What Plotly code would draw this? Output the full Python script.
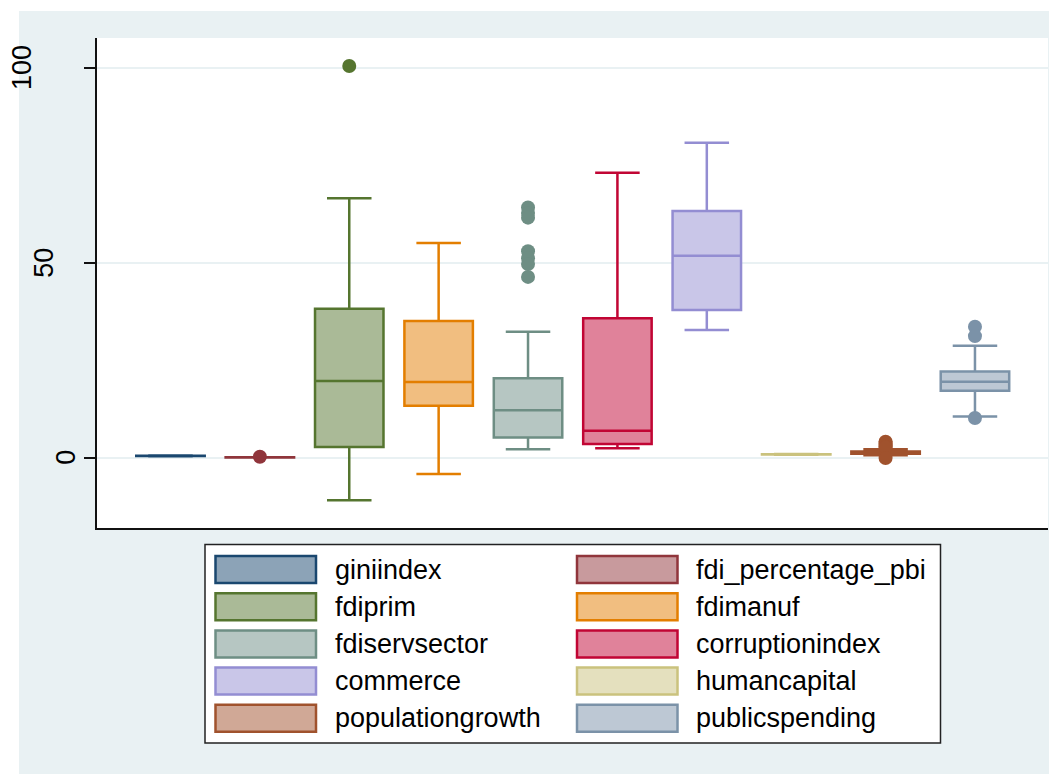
import plotly.graph_objects as go

# ---- data ----
variables = ["giniindex", "fdi_percentage_pbi", "fdiprim", "fdimanuf", "fdiservsector",
             "corruptionindex", "commerce", "humancapital", "populationgrowth", "publicspending"]
lower_whisker = [0.36, 0.05, -10.9, -4.2, 2.2, 2.4, 32.8, 0.78, 0.6, 10.6]
q1_values     = [0.42, 0.08, 2.75, 13.3, 5.2, 3.5, 37.9, 0.82, 1.0, 17.2]
median_values = [0.46, 0.10, 19.7, 19.4, 12.2, 6.9, 51.8, 0.85, 1.3, 19.5]
q3_values     = [0.50, 0.12, 38.2, 35.1, 20.4, 35.8, 63.3, 0.88, 1.6, 22.1]
upper_whisker = [0.56, 0.14, 66.6, 55.1, 32.3, 73.1, 80.8, 0.92, 2.2, 28.7]
outliers = [
    [],
    [0.25],
    [100.5],
    [],
    [64.2, 62.8, 61.6, 53.0, 51.2, 49.7, 46.4],
    [],
    [],
    [],
    [4.1, 3.7, 3.3, 2.9, 2.6, -0.1],
    [33.6, 31.2, 10.2],
]
y_ticks = [0, 50, 100]
y_tick_labels = ["0", "50", "100"]

line_colors = ["#1a476f", "#90353b", "#55752f", "#e37e00", "#6e8e84",
               "#c10534", "#938dd2", "#cac27e", "#a0522d", "#7b92a8"]


def lighten(hex_color, f=0.5):
    h = hex_color.lstrip("#")
    r, g, b = (int(h[i:i + 2], 16) for i in (0, 2, 4))
    r, g, b = (round(c + (255 - c) * f) for c in (r, g, b))
    return "#%02x%02x%02x" % (r, g, b)


fill_colors = [lighten(c) for c in line_colors]

FONT = "Liberation Sans, Arial, Helvetica, sans-serif"
OFF = 8  # default page body margin
W, H = 1064 - OFF, 774 - OFF
# plot area in page pixels: x 97..1048, y 38..528
L, R, T, B = 97 - OFF, 1064 - 1048, 38 - OFF, 774 - 528
PW, PH = W - L - R, H - T - B


def px_x(p):
    return (p - OFF - L) / PW


def px_y(p):
    return (H + OFF - B - p) / PH


fig = go.Figure()
positions = list(range(1, len(variables) + 1))
for i, name in enumerate(variables):
    fig.add_trace(go.Box(
        x=[positions[i]], q1=[q1_values[i]], median=[median_values[i]], q3=[q3_values[i]],
        lowerfence=[lower_whisker[i]], upperfence=[upper_whisker[i]],
        name=name, boxpoints=False, width=0.766, whiskerwidth=0.65,
        line=dict(color=line_colors[i], width=2.5), fillcolor=fill_colors[i],
        showlegend=False, hoverinfo="skip",
    ))
    if outliers[i]:
        fig.add_trace(go.Scatter(
            x=[positions[i]] * len(outliers[i]), y=outliers[i], mode="markers",
            marker=dict(size=14, color=line_colors[i], line=dict(width=0)),
            showlegend=False, hoverinfo="skip",
        ))

shapes = []
# outer graph region (light bluish gray) and white plot region
shapes.append(dict(type="rect", xref="paper", yref="paper", layer="below",
                   x0=px_x(19), x1=px_x(1049), y0=px_y(774), y1=px_y(11),
                   fillcolor="#e9f1f3", line=dict(width=0)))
shapes.append(dict(type="rect", xref="paper", yref="paper", layer="below",
                   x0=0, x1=1, y0=0, y1=1, fillcolor="white", line=dict(width=0)))

# legend frame
shapes.append(dict(type="rect", xref="paper", yref="paper",
                   x0=px_x(205), x1=px_x(940.5), y0=px_y(743), y1=px_y(544.5),
                   fillcolor="white", line=dict(color="#222222", width=1.5), layer="below"))

annotations = []
col_sw_x = [215.5, 577]
col_tx_x = [333, 694]
row_top = 556
row_pitch = 37.2
sw_w, sw_h = 100.5, 27
for i, name in enumerate(variables):
    r, c = divmod(i, 2)
    top = row_top + r * row_pitch
    shapes.append(dict(type="rect", xref="paper", yref="paper",
                       x0=px_x(col_sw_x[c]), x1=px_x(col_sw_x[c] + sw_w),
                       y0=px_y(top + sw_h), y1=px_y(top),
                       fillcolor=fill_colors[i], line=dict(color=line_colors[i], width=2.5)))
    annotations.append(dict(xref="paper", yref="paper", x=px_x(col_tx_x[c]), y=px_y(top + sw_h / 2),
                            text=name, showarrow=False, xanchor="left", yanchor="middle",
                            font=dict(family=FONT, size=27, color="black")))

# rotated y tick labels (Stata-style offset)
for v, lab in zip(y_ticks, y_tick_labels):
    cx = 88 - 22 * len(lab)
    annotations.append(dict(xref="paper", yref="y", x=px_x(cx), y=v, text=lab,
                            showarrow=False, textangle=-90, xanchor="center", yanchor="middle",
                            font=dict(family=FONT, size=27, color="black")))

fig.update_layout(
    width=W, height=H,
    margin=dict(l=L, r=R, t=T, b=B, pad=0),
    paper_bgcolor="white", plot_bgcolor="rgba(0,0,0,0)",
    boxmode="overlay",
    showlegend=False,
    shapes=shapes, annotations=annotations,
    font=dict(family=FONT, size=26, color="black"),
)
fig.update_xaxes(range=[0.178, 10.817], showgrid=False, zeroline=False, showticklabels=False,
                 ticks="", showline=True, linecolor="#111111", linewidth=1.5)
fig.update_yaxes(range=[-18.04, 107.7], tickvals=y_ticks, showticklabels=False,
                 ticks="outside", ticklen=11, tickwidth=1.5, tickcolor="#111111",
                 showgrid=True, gridcolor="#e9f1f3", gridwidth=2, zeroline=False,
                 showline=True, linecolor="#111111", linewidth=1.5)

fig.write_html("out.html")
